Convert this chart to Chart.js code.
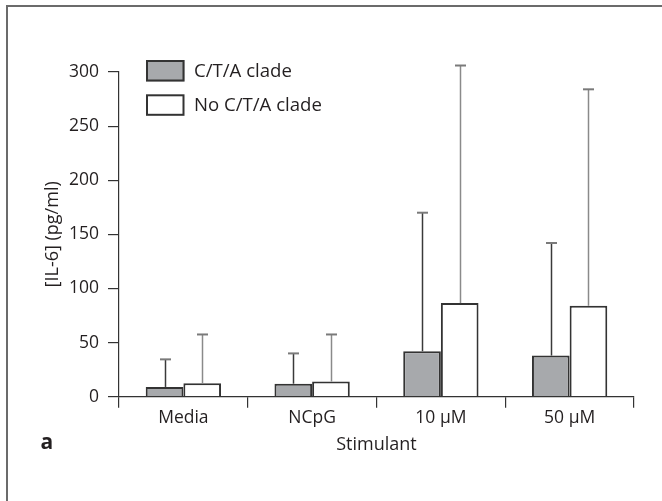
<!DOCTYPE html>
<html><head><meta charset="utf-8">
<script src="https://cdn.jsdelivr.net/npm/chart.js@4"></script>
<style>
html,body{margin:0;padding:0;background:#fff;}
#wrap{position:relative;width:662px;height:501px;overflow:hidden;}
#frame{position:absolute;left:6px;top:5px;width:700px;height:600px;border-top:2px solid #6b6b6b;border-left:2px solid #6b6b6b;}
canvas{position:absolute;left:0;top:0;}
</style></head><body>
<div id="wrap"><div id="frame"></div><canvas id="c" width="662" height="501"></canvas></div>
<script>
const categories = ['Media', 'NCpG', '10 µM', '50 µM'];
const seriesNames = ['C/T/A clade', 'No C/T/A clade'];
const ctaMeans = [9, 12, 42, 38];
const ctaSD = [25.5, 28, 128, 104];
const noCtaMeans = [12.5, 14, 86.5, 84];
const noCtaSD = [45, 43.5, 219.5, 200];
const yTicks = [0, 50, 100, 150, 200, 250, 300];
const xTitle = 'Stimulant';
const yTitle = '[IL-6] (pg/ml)';
const panelLabel = 'a';

const TEXT = '#231f20';
const FONT = '"Open Sans", "DejaVu Sans", sans-serif';

const errorBars = {
  id: 'errorBars',
  afterDatasetsDraw(chart) {
    const ctx = chart.ctx, y = chart.scales.y;
    chart.data.datasets.forEach((ds, di) => {
      const meta = chart.getDatasetMeta(di);
      meta.data.forEach((bar, i) => {
        const top = y.getPixelForValue(ds.data[i] + ds.errors[i]);
        const base = bar.y;
        const x = Math.round(bar.x) + 0.5;
        ctx.save();
        ctx.strokeStyle = ds.whiskerColor; ctx.lineWidth = 1.5;
        ctx.beginPath(); ctx.moveTo(x, base); ctx.lineTo(x, top); ctx.stroke();
        ctx.strokeStyle = '#7a7a7a'; ctx.lineWidth = 2;
        ctx.beginPath(); ctx.moveTo(x - 5.5, top); ctx.lineTo(x + 5.5, top); ctx.stroke();
        ctx.restore();
      });
    });
  }
};

const boxLegend = {
  id: 'boxLegend',
  afterDraw(chart) {
    const ctx = chart.ctx;
    ctx.save();
    chart.data.datasets.forEach((ds, i) => {
      const x = 146, y = 60 + i * 34.3, w = 38.5, h = 21.5;
      ctx.fillStyle = ds.backgroundColor; ctx.fillRect(x, y, w, h);
      ctx.lineWidth = 2; ctx.strokeStyle = '#333'; ctx.strokeRect(x + 1, y + 1, w - 2, h - 2);
      ctx.fillStyle = TEXT; ctx.font = '18.6px ' + FONT; ctx.textBaseline = 'middle'; ctx.textAlign = 'left';
      ctx.fillText(ds.label, 194, y + h / 2 + 0.5);
    });
    ctx.font = 'bold 21px ' + FONT; ctx.fillStyle = TEXT; ctx.textBaseline = 'middle';
    ctx.fillText(panelLabel, 40.5, 443);
    ctx.restore();
  }
};

new Chart(document.getElementById('c'), {
  type: 'bar',
  data: {
    labels: categories,
    datasets: [
      { label: seriesNames[0], data: ctaMeans, errors: ctaSD, whiskerColor: '#3a3a3a',
        backgroundColor: '#a7a9ac', borderColor: '#333', borderWidth: 2,
        barPercentage: 1, categoryPercentage: 0.585 },
      { label: seriesNames[1], data: noCtaMeans, errors: noCtaSD, whiskerColor: '#8a8a8a',
        backgroundColor: '#ffffff', borderColor: '#333', borderWidth: 2,
        barPercentage: 1, categoryPercentage: 0.585 }
    ]
  },
  options: {
    responsive: false,
    animation: false,
    devicePixelRatio: 1,
    layout: { padding: { left: 0, right: 28, top: 72, bottom: 45 } },
    plugins: { legend: { display: false }, tooltip: { enabled: false } },
    scales: {
      x: {
        grid: { display: true, offset: true, drawOnChartArea: false, drawTicks: true, tickLength: 11, color: '#333', lineWidth: 1.2 },
        border: { display: true, color: '#333', width: 1.2 },
        ticks: { color: TEXT, font: { family: FONT, size: 17.5 }, padding: -0.5, maxRotation: 0 },
        title: { display: true, text: xTitle, color: TEXT, font: { family: FONT, size: 18 }, padding: { top: 6.7, bottom: 0 } }
      },
      y: {
        min: 0, max: 300,
        afterBuildTicks: s => { s.ticks = yTicks.map(v => ({ value: v })); },
        afterFit: s => { s.width = 119; },
        grid: { display: true, drawOnChartArea: false, drawTicks: true, tickLength: 11, color: '#333', lineWidth: 1.2 },
        border: { display: true, color: '#333', width: 1.2 },
        ticks: { color: TEXT, font: { family: FONT, size: 17.5 }, padding: 9 },
        title: { display: true, text: yTitle, color: TEXT, font: { family: FONT, size: 18 }, padding: { top: 42, bottom: 0 } }
      }
    }
  },
  plugins: [errorBars, boxLegend]
});
</script>
</body></html>
